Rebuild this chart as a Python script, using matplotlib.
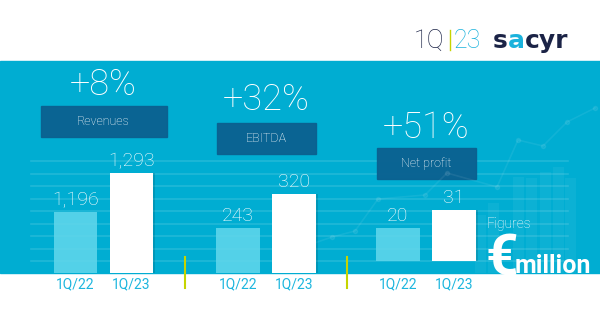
import matplotlib.pyplot as plt
from matplotlib.patches import Rectangle

# Quarterly figures, € million
periods = ["1Q/22", "1Q/23"]
metrics = ["Revenues", "EBITDA", "Net profit"]
values = {
    "Revenues": [1196, 1293],
    "EBITDA": [243, 320],
    "Net profit": [20, 31],
}
growth = ["+8%", "+32%", "+51%"]

# decorative trend sketch behind the right side of the band
deco_line_x = [0, 32, 55, 78, 125, 147, 197, 218, 243, 267, 295]
deco_line_y = [25, 36, 42, 74, 78, 100, 86, 133, 127, 151, 165]
deco_bar_x = [180, 193, 218, 231, 245, 258, 270]
deco_bar_h = [58, 70, 96, 95, 101, 106, 95]

BLUE = "#00ADD2"
DARK = "#0B6090"
LIGHT = "#62D8EC"
TICK = "#1CB6DE"
LIME = "#C6D400"
NAVY = "#1B2346"

W, H = 600, 335
fig = plt.figure(figsize=(W / 100, H / 100), dpi=100)
fig.patch.set_facecolor("white")

# full-figure canvas in pixel units for the layout elements
bg = fig.add_axes([0, 0, 1, 1])
bg.set_xlim(0, W)
bg.set_ylim(H, 0)
bg.axis("off")

BAND_TOP, BASE = 61, 273
bg.add_patch(Rectangle((0, BAND_TOP), W, BASE - BAND_TOP, color=BLUE, zorder=0))

# faint horizontal rules
for i in range(9):
    y = 161 + i * 12.5
    bg.plot([31, 568], [y, y], color="white", alpha=0.13, lw=1.2, zorder=1)

# decorative sketch
deco = fig.add_axes([300 / W, 1 - BASE / H, 300 / W, (BASE - BAND_TOP) / H])
deco.set_xlim(0, 300)
deco.set_ylim(0, BASE - BAND_TOP)
deco.axis("off")
deco.patch.set_alpha(0)
deco.bar(deco_bar_x, deco_bar_h, width=11, color="white", alpha=0.05)
deco.plot(deco_line_x, deco_line_y, color="white", alpha=0.07, lw=1.2,
          marker="o", ms=3)

font = "Roboto"

# header logo
bg.text(414, 48, "1Q", fontsize=18, color=NAVY, family=font, weight="light",
        va="baseline")
bg.plot([450, 450], [30, 50], color=LIME, lw=1)
bg.text(454, 48, "23", fontsize=18, color="#1AB2DC", family=font,
        weight="light", va="baseline")
bg.text(493, 48, "s", fontsize=18, color=NAVY, family="DejaVu Sans",
        weight="bold", va="baseline")
bg.text(508, 48, "a", fontsize=18, color="#1AB2DC", family="DejaVu Sans",
        weight="bold", va="baseline")
bg.text(525, 48, "cyr", fontsize=18, color=NAVY, family="DejaVu Sans",
        weight="bold", va="baseline")

# one small axes per metric, each with its own value scale
group_cx = [103.5, 266, 426]
baselines = [1044, 141, -7.5]
px_per_unit = [39 / 97, 34 / 77, 18 / 11]
label_cy = [85, 100, 128]
box_cy = [121.5, 138.5, 163.5]
box_w = [126, 99, 99]
AX_TOP = 140
span = 130
for k, name in enumerate(metrics):
    cx = group_cx[k]
    ax = fig.add_axes([(cx - span / 2) / W, 1 - BASE / H,
                       span / W, (BASE - AX_TOP) / H])
    ax.patch.set_alpha(0)
    ax.axis("off")
    ax.set_xlim(-0.661, 1.661)
    lo = baselines[k]
    ax.set_ylim(lo, lo + (BASE - AX_TOP) / px_per_unit[k])
    v = values[name]
    ax.bar([0], [v[0]], width=0.77, color=LIGHT, alpha=0.85, zorder=2)
    ax.bar([1.04], [v[1]], width=0.77, color="black", alpha=0.12, zorder=2)
    ax.bar([1], [v[1]], width=0.77, color="white", zorder=3)
    for i, val in enumerate(v):
        ax.annotate(f"{val:,}", (i, val), xytext=(0, 5),
                    textcoords="offset points", ha="center", va="baseline",
                    fontsize=14, color="white", family=font, weight="light")
    for i, p in enumerate(periods):
        bg.text(cx + (i - 0.5) * 56, 284, p, ha="center", va="center",
                fontsize=10, color=TICK, family=font)

    bg.text(cx, label_cy[k], growth[k], ha="center", va="center",
            fontsize=26, color="white", family=font, weight="light")
    bg.add_patch(Rectangle((cx - box_w[k] / 2, box_cy[k] - 15.5), box_w[k], 31,
                           color=DARK, alpha=0.95, zorder=4))
    bg.text(cx, box_cy[k], name, ha="center", va="center", fontsize=9,
            color="white", family=font, weight="light", zorder=5)

# separators between groups
for x in (185, 347):
    bg.plot([x, x], [257, 288], color=LIME, lw=1.5, zorder=5)

# unit note
bg.text(487, 228, "Figures", fontsize=10, color="white", family=font,
        weight="light", va="baseline")
bg.text(485, 276, "€", fontsize=41, color="white", family=font, weight="bold",
        va="baseline")
bg.text(515, 273, "million", fontsize=18, color="white", family=font,
        weight="bold", va="baseline")

fig.savefig("out.png", dpi=100, facecolor="white")
